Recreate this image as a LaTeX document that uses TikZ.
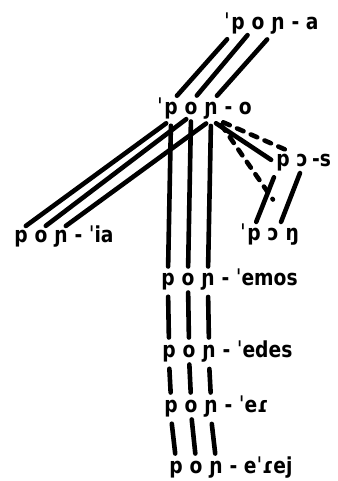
\documentclass[tikz,border=0pt]{standalone}
\usepackage{fontspec}
\setmainfont{DejaVu Sans}[FakeStretch=0.85]
\usetikzlibrary{positioning}

\begin{document}
\begin{tikzpicture}[
  x=1pt, y=-1pt,
  node distance=6.5pt,
  lt/.style={font=\fontsize{22}{22}\selectfont\bfseries, inner sep=0pt, anchor=base},
  tie/.style={line width=4.6pt, line cap=round, shorten <=6pt, shorten >=6pt},
  dtie/.style={tie, dash pattern=on 7pt off 8pt},
]
\useasboundingbox (0,0) rectangle (337,481);

% pon-a
\node[lt] (a-p) at (238,30) {p};
\node[lt, base left=1pt of a-p] (a-st) {ˈ};
\node[lt, base right=of a-p] (a-o) {o};
\node[lt, base right=of a-o] (a-n) {ɲ};
\node[lt, base right=of a-n] (a-r) {- a};

% pon-o
\node[lt] (o-p) at (171,115) {p};
\node[lt, base left=1pt of o-p] (o-st) {ˈ};
\node[lt, base right=of o-p] (o-o) {o};
\node[lt, base right=of o-o] (o-n) {ɲ};
\node[lt, base right=of o-n] (o-r) {- o};

% pon-'ia
\node[lt] (i-p) at (21,242) {p};
\node[lt, base right=of i-p] (i-o) {o};
\node[lt, base right=of i-o] (i-n) {ɲ};
\node[lt, base right=of i-n] (i-r) {- ˈia};

% pO-s
\node[lt] (s-p) at (283,167) {p};
\node[lt, base right=of s-p] (s-o) {ɔ};
\node[lt, base right=4pt of s-o] (s-r) {-s};

% 'pOng
\node[lt] (g-p) at (254,240) {p};
\node[lt, base left=1pt of g-p] (g-st) {ˈ};
\node[lt, base right=of g-p] (g-o) {ɔ};
\node[lt, base right=of g-o] (g-n) {ŋ};

% lower forms
\node[lt] (e-p) at (168,285) {p};
\node[lt, base right=of e-p] (e-o) {o};
\node[lt, base right=of e-o] (e-n) {ɲ};
\node[lt, base right=of e-n] (e-r) {- ˈemos};

\node[lt] (d-p) at (169,357) {p};
\node[lt, base right=of d-p] (d-o) {o};
\node[lt, base right=of d-o] (d-n) {ɲ};
\node[lt, base right=of d-n] (d-r) {- ˈedes};

\node[lt] (r-p) at (171,412) {p};
\node[lt, base right=of r-p] (r-o) {o};
\node[lt, base right=of r-o] (r-n) {ɲ};
\node[lt, base right=of r-n] (r-r) {- ˈeɾ};

\node[lt] (j-p) at (176,473) {p};
\node[lt, base right=of j-p] (j-o) {o};
\node[lt, base right=of j-o] (j-n) {ɲ};
\node[lt, base right=of j-n] (j-r) {- eˈɾej};

% links
\draw[tie, shorten >=9pt] (a-p.south west) -- (o-p.north);
\draw[tie, shorten >=9pt] (a-o.south west) -- (o-o.north);
\draw[tie, shorten >=9pt] (a-n.south west) -- (o-n.north);

\draw[tie] (o-p.south) -- (i-p.north);
\draw[tie] (o-o.south) -- (i-o.north);
\draw[tie] (o-n.south) -- (i-n.north);

\draw[tie] (o-p.south) -- (e-p.north);
\draw[tie] (o-o.south) -- (e-o.north);
\draw[tie] (o-n.south) -- (e-n.north);

\draw[tie] (o-n.south) -- (s-p.west);
\draw[dtie] (o-n.south east) -- (s-o.north west);
\draw[dtie, shorten >=34pt] (o-n.south east) -- (g-n.north);

\draw[tie] (s-p.south west) -- (g-p.north);
\draw[tie] (s-o.south) -- (g-o.north east);

\foreach \u/\v in {e/d, d/r, r/j}
  \foreach \k in {p,o,n}
    \draw[tie, shorten <=7pt, shorten >=7pt] (\u-\k.south) -- (\v-\k.north);
\end{tikzpicture}
\end{document}
